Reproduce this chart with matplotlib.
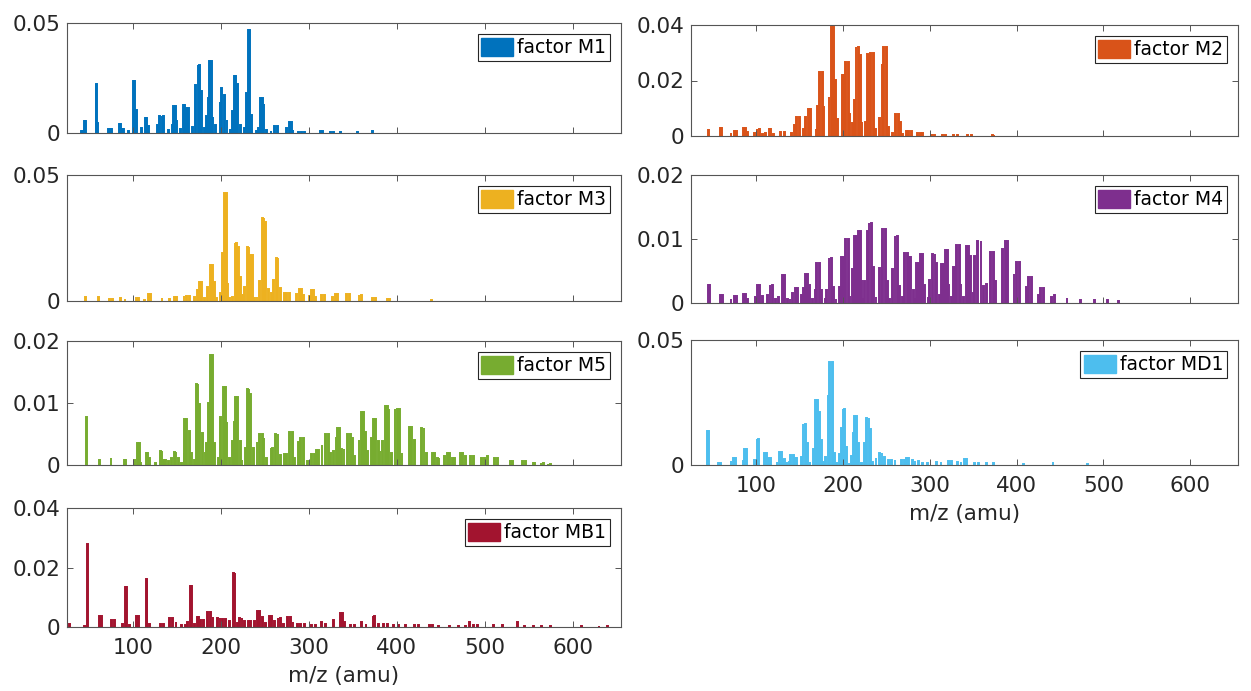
import matplotlib
matplotlib.use('Agg')
import matplotlib.pyplot as plt
from matplotlib.patches import Patch
from matplotlib.ticker import FuncFormatter

plt.rcParams['font.family'] = ['DejaVu Sans']

# --- mass spectra of the PMF factors (unit mass) ---
mz_M1 = [41, 43, 45, 46, 58, 59, 60, 72, 74, 76, 85, 86, 88, 89, 95, 101, 102, 104,
         110, 114, 115, 118, 128, 130, 133, 135, 140, 145, 146, 148, 150,
         154, 157, 159, 161, 163, 168, 171, 174, 176, 178, 181,
         184, 186, 187, 189, 191, 194, 199, 201, 204, 207,
         211, 213, 215, 217, 219, 222, 227, 229, 231, 233, 235,
         240, 243, 245, 247, 249, 252, 257, 261, 264, 275, 278, 280, 282,
         288, 292, 295, 313, 316, 325, 328, 336, 355, 372]
int_M1 = [0.0008, 0.0011, 0.0056, 0.0056, 0.0223, 0.0223, 0.0045, 0.0018, 0.0018, 0.0018,
          0.0042, 0.0042, 0.002, 0.002, 0.0008, 0.0238, 0.0238, 0.0106,
          0.0023, 0.0068, 0.0068, 0.003, 0.0038, 0.0079, 0.0076, 0.0076,
          0.0015, 0.0038, 0.0124, 0.0124, 0.0056,
          0.002, 0.0129, 0.0129, 0.0114, 0.0114, 0.0026, 0.022, 0.0308, 0.0308, 0.019, 0.0023,
          0.0076, 0.016, 0.0329, 0.0329, 0.0071, 0.0038, 0.0141, 0.0205, 0.0171, 0.006,
          0.0015, 0.0098, 0.026, 0.026, 0.0223, 0.0038, 0.0023, 0.0182, 0.047, 0.047, 0.008,
          0.001, 0.0023, 0.016, 0.016, 0.0132, 0.0015, 0.001, 0.003, 0.003,
          0.0023, 0.005, 0.005, 0.0015, 0.0005, 0.0005, 0.0005, 0.001, 0.001,
          0.0006, 0.0006, 0.0004, 0.0005, 0.001]

mz_M2 = [45, 59, 60, 71, 75, 77, 85, 88, 90, 98, 101, 104, 107, 111, 115, 117, 120,
         128, 133, 141, 144, 147, 150, 155, 157, 160, 163, 169, 171, 173, 176, 178,
         184, 187, 189, 191, 194, 199, 201, 203, 206, 208, 211, 213, 215, 218, 220, 222,
         226, 228, 230, 232, 235, 237, 242, 245, 247, 250, 252, 257, 261, 264, 266, 269,
         273, 276, 279, 286, 289, 292, 302, 305, 315, 318, 327, 332, 343, 348, 372, 374]
int_M2 = [0.002, 0.003, 0.003, 0.0012, 0.0019, 0.0019, 0.0029, 0.0029, 0.0014, 0.0012,
          0.0024, 0.0024, 0.0007, 0.0012, 0.0027, 0.0027, 0.0008,
          0.0014, 0.0014, 0.0012, 0.0039, 0.0069, 0.0069, 0.0027, 0.0069, 0.0099, 0.0099,
          0.0024, 0.0108, 0.0231, 0.0231, 0.0105,
          0.0141, 0.0392, 0.0392, 0.0201, 0.0063, 0.0219, 0.0219, 0.0265, 0.0265, 0.0081,
          0.0048, 0.0129, 0.0319, 0.0319, 0.0292, 0.005,
          0.005, 0.0294, 0.0294, 0.0298, 0.0298, 0.0027, 0.0065, 0.0261, 0.0321, 0.0321,
          0.0033, 0.0012, 0.0081, 0.0081, 0.005, 0.0006,
          0.0017, 0.0017, 0.0017, 0.0012, 0.0012, 0.0012, 0.0005, 0.0005, 0.0005, 0.0005,
          0.0002, 0.0002, 0.0002, 0.0002, 0.0005, 0.0005]

mz_M3 = [46, 61, 73, 77, 86, 91, 104, 106, 113, 118, 120, 133, 142, 147, 150,
         158, 161, 164, 170, 173, 176, 178, 181, 185, 188, 190, 193, 195,
         200, 202, 204, 206, 208, 210, 213, 216, 218, 220, 222, 225,
         227, 230, 232, 234, 236, 238, 241, 244, 247, 249, 251, 254,
         258, 260, 263, 265, 268, 272, 275, 278, 286, 289, 292, 294,
         301, 303, 305, 308, 314, 318, 327, 330, 333, 343, 346, 357, 360,
         372, 376, 389, 392, 440]
int_M3 = [0.0017, 0.0015, 0.0007, 0.0007, 0.0012, 0.0007, 0.0013, 0.0013, 0.0004, 0.0029,
          0.0029, 0.001, 0.0007, 0.0016, 0.0016,
          0.0021, 0.0021, 0.0021, 0.0017, 0.0044, 0.0077, 0.0077, 0.001,
          0.0054, 0.0143, 0.0143, 0.0077, 0.001,
          0.003, 0.019, 0.043, 0.043, 0.0067, 0.001, 0.0017, 0.0229, 0.0229, 0.0213, 0.0094,
          0.0024, 0.0054, 0.0216, 0.0216, 0.0183, 0.0183, 0.001,
          0.0017, 0.0081, 0.0328, 0.0328, 0.0315, 0.0046,
          0.003, 0.0083, 0.0169, 0.0169, 0.005, 0.0033, 0.0033, 0.0033,
          0.0028, 0.0048, 0.0048, 0.0025, 0.002, 0.0044, 0.0044, 0.0015,
          0.0024, 0.0024, 0.0015, 0.0026, 0.0026, 0.0028, 0.0028, 0.0024, 0.0024,
          0.001, 0.001, 0.0007, 0.0007, 0.0003]

mz_M4 = [45, 46, 59, 61, 71, 75, 77, 85, 88, 90, 99, 102, 104, 107, 113, 116, 119, 122,
         126, 130, 133, 136, 139, 142, 145, 148, 152, 155, 157, 159, 161, 165,
         168, 170, 173, 175, 180, 181, 184, 187, 189, 192, 196, 198, 201, 203, 206, 208,
         211, 213, 216, 218, 220, 222, 224, 225, 228, 230, 233, 235, 238,
         242, 245, 246, 249, 251, 254, 257, 260, 263, 265, 269,
         271, 274, 276, 278, 281, 284, 285, 287, 289, 292, 294, 298,
         300, 303, 306, 308, 311, 314, 316, 318, 320, 322, 325,
         327, 330, 331, 334, 336, 339, 342, 345, 347, 350, 352, 355, 359, 362,
         365, 370, 373, 376, 384, 387, 390, 397, 400, 403, 411, 414, 417,
         425, 428, 431, 440, 444, 458, 474, 490, 505, 517]
int_M4 = [0.0028, 0.0028, 0.0012, 0.0012, 0.0007, 0.0011, 0.0011, 0.0014, 0.0014, 0.0007,
          0.0009, 0.0028, 0.0028, 0.0011, 0.0012, 0.0028, 0.0028, 0.0007,
          0.0009, 0.0043, 0.0043, 0.0007, 0.0007, 0.0015, 0.0023, 0.0023, 0.0012,
          0.0023, 0.0046, 0.0046, 0.0028, 0.0007,
          0.002, 0.0062, 0.0062, 0.002, 0.0007, 0.002, 0.0071, 0.0071, 0.0025, 0.0007,
          0.0025, 0.0072, 0.0072, 0.01, 0.01, 0.0009,
          0.0053, 0.0105, 0.0105, 0.0113, 0.0113, 0.0036, 0.0007, 0.0035, 0.0113, 0.0125,
          0.0125, 0.0057, 0.0009,
          0.0054, 0.01, 0.0116, 0.0116, 0.0035, 0.0007, 0.0053, 0.0105, 0.0105, 0.0026, 0.0009,
          0.0078, 0.0078, 0.0072, 0.0072, 0.002, 0.0007, 0.0062, 0.0062, 0.0076, 0.0076,
          0.0028, 0.0009,
          0.0036, 0.0076, 0.0076, 0.0062, 0.0012, 0.0061, 0.0061, 0.0083, 0.0083, 0.0028,
          0.0009,
          0.0057, 0.0057, 0.009, 0.009, 0.003, 0.0009, 0.0089, 0.0089, 0.0073, 0.0015,
          0.0073, 0.0097, 0.0097, 0.0026,
          0.003, 0.0079, 0.0079, 0.0035, 0.0085, 0.0097, 0.0097, 0.0045, 0.0064, 0.0064,
          0.0025, 0.004, 0.004,
          0.0012, 0.0024, 0.0024, 0.0009, 0.0012, 0.0008, 0.0005, 0.0004, 0.0004, 0.0003]

mz_M5 = [47, 62, 75, 90, 92, 102, 105, 107, 109, 115, 117, 119, 126, 131, 133, 135, 137,
         140, 144, 147, 149, 152, 155, 158, 159, 161, 164, 167, 170,
         172, 174, 176, 179, 182, 184, 186, 188, 190, 193,
         197, 200, 203, 205, 207, 210, 213, 215, 217, 219, 222, 224,
         228, 230, 232, 234, 237, 241, 244, 247, 249, 252,
         257, 259, 262, 265, 268, 272, 275, 278, 281, 284, 288, 291, 294, 298,
         303, 306, 309, 311, 315, 319, 322, 325, 328, 331, 333, 335, 337, 340,
         344, 347, 350, 352, 357, 360, 362, 364, 367, 371, 373, 374, 376, 379, 381,
         384, 387, 389, 391, 394, 398, 401, 403, 406, 414, 417, 420, 428, 431, 434,
         441, 443, 446, 448, 454, 458, 460, 463, 466, 472, 475, 478, 484, 487,
         496, 500, 503, 511, 515, 529, 532, 543, 546, 555, 557, 564, 567, 572, 575]
int_M5 = [0.0077, 0.0008, 0.0011, 0.0008, 0.0008, 0.0008, 0.0035, 0.0035, 0.0003,
          0.002, 0.002, 0.0011, 0.0003, 0.0022, 0.0022, 0.0008, 0.0008,
          0.0006, 0.0012, 0.0021, 0.0021, 0.0011, 0.0003, 0.0019, 0.0074, 0.0074, 0.0055,
          0.0019, 0.0008,
          0.013, 0.013, 0.0098, 0.0051, 0.0019, 0.0035, 0.01, 0.0177, 0.0177, 0.0035,
          0.0011, 0.0078, 0.0126, 0.0126, 0.0069, 0.0011, 0.0038, 0.0069, 0.011, 0.011,
          0.0039, 0.0008,
          0.0027, 0.0122, 0.0122, 0.0114, 0.0027, 0.0037, 0.005, 0.005, 0.0043, 0.0011,
          0.0027, 0.0027, 0.005, 0.005, 0.0016, 0.0017, 0.0017, 0.0054, 0.0054, 0.0011,
          0.0037, 0.0044, 0.0044, 0.0006,
          0.0017, 0.0017, 0.0024, 0.0024, 0.0032, 0.005, 0.005, 0.0019, 0.0022, 0.0044,
          0.006, 0.006, 0.0026, 0.0026,
          0.005, 0.005, 0.0044, 0.0014, 0.0041, 0.0085, 0.0085, 0.0054, 0.0022, 0.0043,
          0.0043, 0.0075, 0.0075, 0.0039, 0.0022,
          0.0039, 0.0095, 0.0095, 0.0089, 0.0019, 0.0091, 0.0091, 0.0091, 0.0019, 0.0061,
          0.0061, 0.004, 0.006, 0.006, 0.0019,
          0.002, 0.002, 0.0012, 0.0012, 0.0014, 0.0019, 0.0019, 0.0011, 0.0011, 0.0019,
          0.0019, 0.0014, 0.0015, 0.0015,
          0.0011, 0.0011, 0.0014, 0.0011, 0.0011, 0.0007, 0.0007, 0.0007, 0.0007, 0.0004,
          0.0004, 0.0003, 0.0003, 0.0002, 0.0002]

mz_MD1 = [44, 45, 57, 59, 71, 74, 76, 85, 87, 89, 98, 101, 103, 110, 112, 114, 117,
          124, 127, 129, 131, 133, 135, 138, 140, 143, 145, 147,
          152, 154, 157, 159, 162, 166, 168, 171, 173, 175, 178,
          180, 183, 185, 188, 190, 193, 196, 198, 200, 202, 204, 207,
          210, 212, 213, 216, 218, 221, 225, 227, 230, 232, 234,
          238, 242, 245, 248, 252, 256, 260, 267, 271, 273, 276, 280,
          283, 287, 292, 297, 308, 313, 322, 325, 332, 336, 340, 342,
          352, 356, 365, 373, 408, 442, 482]
int_MD1 = [0.0137, 0.0137, 0.001, 0.001, 0.0016, 0.0027, 0.0027, 0.0016, 0.0063, 0.0063,
           0.002, 0.0104, 0.0104, 0.0048, 0.0048, 0.0029, 0.0029,
           0.0013, 0.0051, 0.0051, 0.0024, 0.0024, 0.0008, 0.0013, 0.004, 0.004, 0.0027,
           0.0027,
           0.0033, 0.0163, 0.0163, 0.0087, 0.0013, 0.0064, 0.026, 0.026, 0.0211, 0.01, 0.0011,
           0.0033, 0.0277, 0.0413, 0.0413, 0.0047, 0.0007, 0.0043, 0.0149, 0.0224, 0.0224,
           0.0073, 0.0007,
           0.0037, 0.013, 0.0197, 0.0197, 0.0087, 0.0007, 0.0087, 0.0189, 0.0189, 0.0143,
           0.0013,
           0.0029, 0.0047, 0.0047, 0.0033, 0.0019, 0.0019, 0.0019, 0.002, 0.002, 0.0027,
           0.0027, 0.002,
           0.0016, 0.0016, 0.001, 0.001, 0.0013, 0.0013, 0.0016, 0.0016, 0.0013, 0.0013,
           0.0024, 0.0024,
           0.0007, 0.0007, 0.0007, 0.0007, 0.0005, 0.0012, 0.0004]

mz_MB1 = [28, 45, 48, 62, 64, 76, 79, 88, 92, 93, 96, 104, 106, 115, 116, 119,
          131, 135, 142, 145, 149, 155, 160, 162, 165, 167, 170, 173, 175, 177, 180,
          185, 188, 191, 196, 199, 202, 205, 210, 214, 216, 219,
          221, 224, 227, 231, 234, 238, 242, 244, 247, 251, 255, 258, 261, 265, 268,
          271, 276, 279, 282, 287, 291, 295, 303, 308, 314, 319, 328, 336, 338, 341,
          347, 352, 360, 365, 373, 375, 379, 385, 389, 396, 402, 410, 420, 425,
          437, 441, 447, 460, 470, 478, 483, 487, 492, 510, 520, 537,
          545, 555, 565, 575, 610, 630, 640]
int_MB1 = [0.0009, 0.0002, 0.028, 0.0037, 0.0037, 0.0023, 0.0023, 0.0009, 0.0135, 0.0135,
           0.0006, 0.0037, 0.0037, 0.016, 0.016, 0.0011,
           0.0009, 0.0009, 0.0029, 0.0029, 0.0017, 0.0006, 0.0006, 0.0017, 0.0139, 0.0139,
           0.0009, 0.0032, 0.0032, 0.0023, 0.0023,
           0.0051, 0.0051, 0.0034, 0.0029, 0.0029, 0.0026, 0.0026, 0.002, 0.0183, 0.0183,
           0.0014,
           0.0031, 0.0031, 0.002, 0.002, 0.002, 0.002, 0.0054, 0.0054, 0.0034, 0.0014,
           0.0037, 0.0037, 0.002, 0.0029, 0.0029,
           0.0011, 0.0034, 0.0034, 0.0017, 0.0011, 0.0011, 0.0011, 0.0008, 0.0008, 0.0016,
           0.0009, 0.0025, 0.0046, 0.0046, 0.0017,
           0.0007, 0.0007, 0.0016, 0.0009, 0.0038, 0.0038, 0.0009, 0.0011, 0.0011, 0.0007,
           0.0007, 0.0006, 0.0006, 0.0006,
           0.0008, 0.0008, 0.0003, 0.0003, 0.0003, 0.0003, 0.0017, 0.0006, 0.0006, 0.0006,
           0.0006, 0.0016,
           0.0003, 0.0003, 0.0003, 0.0003, 0.0005, 0.0003, 0.0003]

labels = ['factor M1', 'factor M2', 'factor M3', 'factor M4',
          'factor M5', 'factor MD1', 'factor MB1']
colors = ['#0072BD', '#D95319', '#EDB120', '#7E2F8E',
          '#77AC30', '#4DBEEE', '#A2142F']
ymax = [0.05, 0.04, 0.05, 0.02, 0.02, 0.05, 0.04]
yticks = [[0, 0.05], [0, 0.02, 0.04], [0, 0.05], [0, 0.01, 0.02],
          [0, 0.01, 0.02], [0, 0.05], [0, 0.02, 0.04]]
spectra = [(mz_M1, int_M1), (mz_M2, int_M2), (mz_M3, int_M3), (mz_M4, int_M4),
           (mz_M5, int_M5), (mz_MD1, int_MD1), (mz_MB1, int_MB1)]

W, H = 1251, 691
# axes boxes in pixels: (left, top, right, bottom)
boxes = [(67, 23, 621, 133), (691, 25, 1238, 136),
         (67, 175, 621, 301), (691, 175, 1238, 303),
         (67, 341, 621, 465), (691, 340, 1238, 465),
         (67, 508, 621, 627)]

fig = plt.figure(figsize=(W / 100, H / 100), dpi=100)
txt = '#262626'

for i in range(7):
    l, t, r, b = boxes[i]
    ax = fig.add_axes([l / W, 1 - b / H, (r - l) / W, (b - t) / H])
    mz, val = spectra[i]
    ax.bar(mz, val, width=1.0, color=colors[i], edgecolor=colors[i], linewidth=1.4)
    ax.set_xlim(25, 655)
    ax.set_ylim(0, ymax[i])
    ax.set_xticks([100, 200, 300, 400, 500, 600])
    ax.set_yticks(yticks[i])
    ax.yaxis.set_major_formatter(FuncFormatter(lambda v, p: f'{v:g}'))
    ax.tick_params(direction='in', top=True, right=True, length=4, width=0.7,
                   labelsize=15.5, colors='#555555', labelcolor=txt, pad=5)
    ax.tick_params(axis='x', pad=8)
    if i not in (5, 6):
        ax.set_xticklabels([])
    for s in ax.spines.values():
        s.set_color('#555555')
        s.set_linewidth(0.8)
    if i in (5, 6):
        ax.set_xlabel('m/z (amu)', fontsize=15.5, color=txt, labelpad=6)
    leg = ax.legend([Patch(facecolor=colors[i], edgecolor=colors[i])], [labels[i]],
                    loc='upper right', fontsize=13.5, fancybox=False, framealpha=1,
                    edgecolor='#262626', handlelength=1.7, handleheight=1.1,
                    handletextpad=0.2, borderpad=0.2, borderaxespad=0.6)
    leg.get_frame().set_linewidth(0.8)

fig.savefig('out.png', dpi=100)
